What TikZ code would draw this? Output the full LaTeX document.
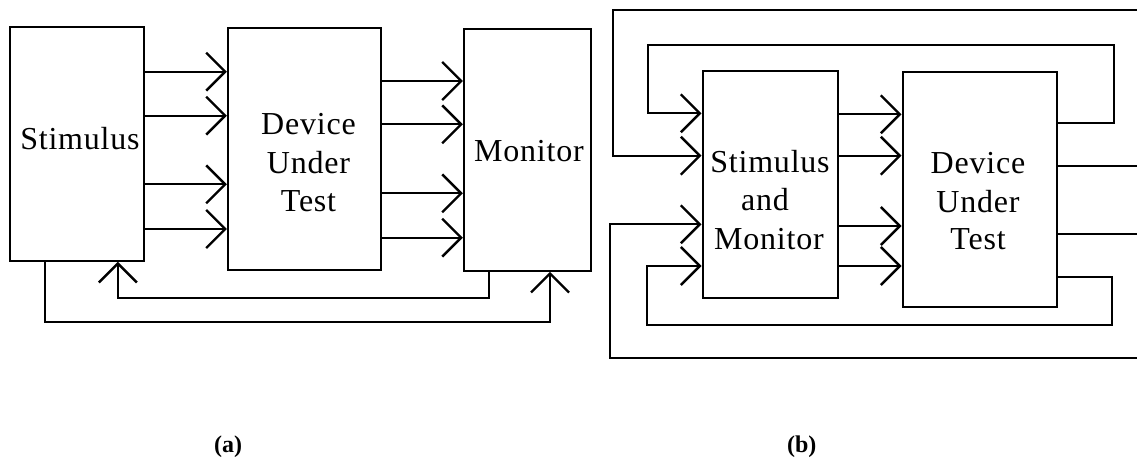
\documentclass[tikz,border=0pt]{standalone}
\usepackage{fontspec}
\setmainfont{Liberation Serif}[LetterSpace=2.5]
\newfontfamily\capfont{Liberation Serif}
\usetikzlibrary{arrows.meta}

\begin{document}
\begin{tikzpicture}[x=1pt, y=-1pt,
  box/.style={draw, line width=2.2pt, inner sep=0pt},
  conn/.style={line width=1.8pt},
  arr/.style={conn, -{Straight Barb[length=19pt, width=38pt, line width=2.4pt]}},
  txt/.style={font=\fontsize{32}{38}\selectfont, inner sep=0pt, anchor=base},
  captext/.style={font=\capfont\bfseries\fontsize{24}{28}\selectfont, inner sep=0pt}
]
\useasboundingbox (0,0) rectangle (1137,462);

% ---------- (a): separate stimulus and monitor ----------
\node[box, minimum width=134pt, minimum height=233.4pt] (s)  at (77,144) {};
\node[box, minimum width=153pt, minimum height=242pt]   (da) at (304.5,149) {};
\node[box, minimum width=127pt, minimum height=241.4pt] (ma) at (527.5,150) {};

\node[txt] (sT)  at (80,150)    {Stimulus};
\node[txt] (daT1) at (308.5,135) {Device};
\node[txt] (daT2) at (308.5,173.3) {Under};
\node[txt] (daT3) at (308.5,211.7) {Test};
\node[txt] (maT) at (529,161.7) {Monitor};

\foreach \y in {71.7,115.7,184.3,229}
  \draw[arr] (s.east |- 0,\y) -- (da.west |- 0,\y);
\foreach \y in {81,124.3,193.3,237.7}
  \draw[arr] (da.east |- 0,\y) -- (ma.west |- 0,\y);

% feedback from monitor to stimulus
\draw[arr] (ma.south -| 489,0) -- (489,297.7) -| (s.south -| 117.9,0);
% stimulus to monitor
\draw[arr] (s.south -| 44.6,0) -- (44.6,321.7) -| (ma.south -| 550,0);

\node[captext] (capA) at (228,446.7) {(a)};

% ---------- (b): combined stimulus and monitor ----------
\node[box, minimum width=135.7pt, minimum height=227.3pt] (sm) at (770.45,184.65) {};
\node[box, minimum width=154.1pt, minimum height=235.6pt] (db) at (979.65,189.5) {};

\node[txt] (smT1) at (770,172.7) {Stimulus};
\node[txt] (smT2) at (765,210.7) {and};
\node[txt] (smT3) at (769,249.3) {Monitor};
\node[txt] (dbT1) at (978,174)   {Device};
\node[txt] (dbT2) at (978,212.3) {Under};
\node[txt] (dbT3) at (978,250)   {Test};

\foreach \y in {114.3,155.7,226,266}
  \draw[arr] (sm.east |- 0,\y) -- (db.west |- 0,\y);

% free ends at the right edge
\coordinate (ot) at (1137,10);
\coordinate (o1) at (1137,165.7);
\coordinate (o2) at (1137,234.3);
\coordinate (ob) at (1137,358.3);

% inner loops
\draw[arr] (db.east |- 0,123.3) -| (1113.6,45) -| (648.2,113.3) -- (sm.west |- 0,113.3);
\draw[arr] (db.east |- 0,276.7) -| (1112.1,325) -| (646.8,266) -- (sm.west |- 0,266);
% outer lines
\draw[arr] (ot) -| (612.7,155.7) -- (sm.west |- 0,155.7);
\draw[arr] (ob) -| (610.2,224.3) -- (sm.west |- 0,224.3);
% outputs
\draw[conn] (db.east |- o1) -- (o1);
\draw[conn] (db.east |- o2) -- (o2);

\node[captext] (capB) at (801.7,446.7) {(b)};
\end{tikzpicture}
\end{document}
